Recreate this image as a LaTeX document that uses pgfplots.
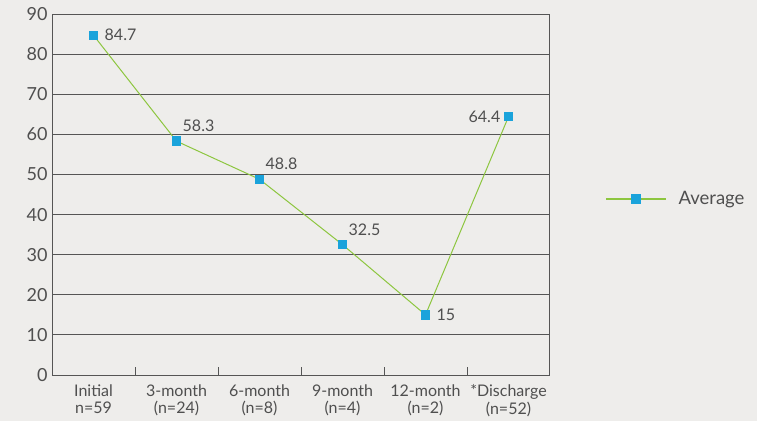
\documentclass[border=0pt]{standalone}
\usepackage{pgfplots}
\pgfplotsset{compat=1.18}
\usepackage{fontspec}
\setmainfont{Lato}
\definecolor{bg}{HTML}{EEEDEB}
\definecolor{txt}{HTML}{4F4F4F}
\definecolor{gridc}{HTML}{555555}
\definecolor{linec}{HTML}{8DC63F}
\definecolor{markc}{HTML}{1AA3DB}
\begin{document}
\begin{tikzpicture}
\fill[bg] (0,0) rectangle (757pt,421pt);
\begin{axis}[
  at={(52pt,46pt)}, anchor=south west,
  scale only axis, width=498pt, height=361pt,
  xmin=-0.5, xmax=5.5, ymin=0, ymax=90,
  ytick={0,10,...,90},
  xtick={0,...,5},
  xticklabels={{Initial\\n=59},{3-month\\(n=24)},{6-month\\(n=8)},{9-month\\(n=4)},{12-month\\(n=2)},{*Discharge\\(n=52)}},
  xticklabel style={align=center, text=txt, font=\fontsize{16}{17.5}\selectfont, yshift=-6pt},
  yticklabel style={text=txt, font=\fontsize{18}{20}\selectfont, xshift=-1pt},
  /pgf/number format/assume math mode=true,
  minor xtick={0.5,1.5,2.5,3.5,4.5},
  major tick length=0pt, minor tick length=8pt,
  tick align=inside, xtick pos=bottom, ytick pos=left,
  minor tick style={gridc, line width=1pt},
  ymajorgrids, grid style={gridc, line width=1pt},
  axis line style={gridc, line width=1pt},
  legend style={draw=none, fill=none, at={(1.105,0.4875)}, anchor=west,
    font=\fontsize{18.5}{20}\selectfont, text=txt},
  legend image code/.code={\draw[mark repeat=2,mark phase=2,#1,draw=linec,line width=1.2pt] plot coordinates {(0pt,0pt)(30pt,0pt)(60pt,0pt)}; \path (70pt,0pt);},
  nodes near coords style={text=txt, font=\fontsize{16}{18}\selectfont, inner sep=0pt},
  clip=false,
]
\addplot[linec, line width=1pt, mark=square*, mark size=4.2pt,
  mark options={draw=markc, fill=markc}] coordinates {
  (0,84.7)(1,58.3)(2,48.8)(3,32.5)(4,15)(5,64.4)
};
\addlegendentry{Average}
% labels to the right
\addplot[draw=none, forget plot, nodes near coords, point meta=y,
  nodes near coords style={anchor=west, xshift=11pt, yshift=0pt}] coordinates {
  (0,84.7)(4,15)
};
% labels above right
\addplot[draw=none, forget plot, nodes near coords, point meta=y,
  nodes near coords style={anchor=south west, xshift=6pt, yshift=9pt}] coordinates {
  (1,58.3)(2,48.8)(3,32.5)
};
% label to the left
\addplot[draw=none, forget plot, nodes near coords, point meta=y,
  nodes near coords style={anchor=east, xshift=-8pt}] coordinates {
  (5,64.4)
};
\end{axis}
\end{tikzpicture}
\end{document}
